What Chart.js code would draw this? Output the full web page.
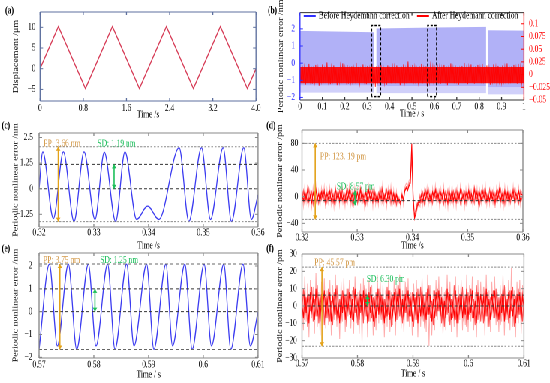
<!DOCTYPE html>
<html><head><meta charset="utf-8">
<script src="https://cdn.jsdelivr.net/npm/chart.js@4"></script>
<style>
html,body{margin:0;padding:0;background:#fff;overflow:hidden;width:550px;height:383px;}
#wrap{position:absolute;left:0;top:0;width:733px;height:383px;transform:scaleX(0.7503);transform-origin:0 0;}
#wrap canvas{position:absolute;left:0;top:0;}
</style></head><body><div id="wrap"></div>
<script>
// ---------- DATA ----------
// (a) triangular displacement
const aTime = [0, 0.34, 0.84, 1.34, 1.84, 2.34, 2.84, 3.34, 3.84, 4.0];
const aDisp = [0, 10.2, -4.8, 10.2, -4.8, 10.2, -4.8, 10.2, -4.8, 0];
const aXTicks = [0, 0.8, 1.6, 2.4, 3.2, 4.0];
const aXLabels = ['0', '0.8', '1.6', '2.4', '3.2', '4.0'];
const aYTicks = [-5, 0, 5, 10];
const aYLabels = ['\u22125', '0', '5', '10'];

// (b) envelope of the error before correction (nm) and noise after correction
const bBandT   = [0, 0.33, 0.336, 0.341, 0.6, 0.831, 0.835, 0.838, 1.0];
const bBandHi  = [1.88, 1.80, null, 2.02, 2.08, 2.12, null, 1.92, 1.90];
const bBandMid = [-1.30, -1.30, null, -1.33, -1.33, -1.33, null, -1.40, -1.40];
const bBandLo  = [-1.72, -1.72, null, -1.75, -1.75, -1.75, null, -1.82, -1.82];
const bCoreT  = [0, 1];
const bCoreHi = [0.015, 0.015];
const bCoreLo = [-0.017, -0.017];
const bRed = [
 0.012,-0.015,0.018,-0.009,0.014,-0.02,0.008,-0.013,0.021,-0.011,0.016,-0.018,0.01,-0.014,0.019,-0.008,0.013,-0.022,0.015,-0.012,
 0.02,-0.01,0.011,-0.017,0.024,-0.013,0.009,-0.019,0.014,-0.011,0.018,-0.015,0.012,-0.021,0.01,-0.014,0.017,-0.009,0.022,-0.016,
 0.013,-0.012,0.019,-0.018,0.01,-0.014,0.016,-0.02,0.012,-0.01,0.023,-0.013,0.015,-0.017,0.009,-0.016,0.02,-0.011,0.014,-0.019,
 0.017,-0.009,0.012,-0.015,0.021,-0.012,0.01,-0.024,0.016,-0.013,0.011,-0.018,0.019,-0.01,0.014,-0.016,0.012,-0.02,0.018,-0.011,
 0.01,-0.017,0.022,-0.013,0.015,-0.01,0.018,-0.015,0.012,-0.021,0.016,-0.009,0.02,-0.014,0.011,-0.018,0.026,-0.012,0.013,-0.016,
 0.019,-0.011,0.014,-0.019,0.01,-0.015,0.017,-0.012,0.021,-0.017,0.012,-0.01,0.016,-0.022,0.013,-0.014,0.018,-0.009,0.015,-0.02,
 0.011,-0.016,0.02,-0.011,0.014,-0.018,0.012,-0.013,0.019,-0.01,0.016,-0.021,0.01,-0.015,0.022,-0.012,0.013,-0.017,0.018,-0.011,
 0.015,-0.02,0.01,-0.014,0.017,-0.012,0.023,-0.016,0.011,-0.019,0.014,-0.01,0.02,-0.015,0.012,-0.018,0.016,-0.013,0.019,-0.009,
 0.013,-0.017,0.021,-0.011,0.01,-0.016,0.018,-0.014,0.012,-0.02,0.015,-0.012,0.02,-0.01,0.014,-0.023,0.017,-0.013,0.011,-0.015,
 0.018,-0.012,0.014,-0.019,0.022,-0.011,0.012,-0.017,0.016,-0.014,0.019,-0.01,0.013,-0.018,0.021,-0.012,0.015,-0.016,0.011,-0.013
];
const bZoomBoxes = [[0.32, 0.36], [0.57, 0.61]];
const bBoxTop = 2.2, bBoxBottom = -1.95;
const bXTicks = [0, 0.1, 0.2, 0.3, 0.4, 0.5, 0.6, 0.7, 0.8, 0.9, 1];
const bXLabels = ['0', '0.1', '0.2', '0.3', '0.4', '0.5', '0.6', '0.7', '0.8', '0.9', '1'];
const bYTicks = [-2, -1, 0, 1, 2];
const bYLabels = ['\u22122', '\u22121', '0', '1', '2'];
const bY1Ticks = [-0.05, -0.025, 0, 0.025, 0.05, 0.075, 0.1];
const bY1Labels = ['\u22120.05', '\u22120.025', '0', '0.025', '0.05', '0.075', '0.1'];
const bLegend = ['Before Heydemann correction', 'After Heydemann correction'];

// (c) zoom 0.32-0.36 s before correction (nm): extrema
const cT = [0.32, 0.32067, 0.32261, 0.32444, 0.32638, 0.32821, 0.33021, 0.33191, 0.33398, 0.33568, 0.33781, 0.33982, 0.34188, 0.34559, 0.34736, 0.34967, 0.35131, 0.35362, 0.35514, 0.35739, 0.35878, 0.36];
const cV = [0, 1.8, -1.46, 1.8, -1.6, 1.8, -1.5, 1.78, -1.6, 1.8, -1.5, -0.85, -1.5, 2.0, -1.6, 2.0, -1.5, 2.0, -1.6, 2.0, -1.5, -0.3];
const cXTicks = [0.32, 0.33, 0.34, 0.35, 0.36];
const cXLabels = ['0.32', '0.33', '0.34', '0.35', '0.36'];
const cYTicks = [-1.25, 0, 1.25, 2.5];
const cYLabels = ['\u22121.25', '0', '1.25', '2.5'];
const cStats = {pp: [-1.61, 2.05], mean: 0, sd: 1.19};

// (d) zoom 0.32-0.36 s after correction (pm)
const dDark = [
 3,-6,8,-4,10,-7,2,-9,6,-3,11,-5,4,-8,7,-2,9,-10,5,-4,
 8,-6,3,-9,12,-3,6,-7,10,-5,2,-8,7,-4,9,-6,4,-10,8,-2,
 6,-7,11,-4,3,-9,7,-5,10,-3,5,-8,9,-6,2,-7,8,-4,12,-5,
 4,-8,7,-3,9,-6,5,-10,3,-7,-4,-9,2,-6,8,13,9,16,20,80,
 2,-33,-24,-14,-6,-9,3,-7,5,-4,8,-6,3,-9,7,-2,10,-5,4,-8,
 6,-3,9,-7,2,-10,8,-4,11,-6,5,-8,7,-3,10,-5,3,-9,6,-4,
 9,-6,4,-8,12,-3,7,-9,5,-5,8,-2,10,-7,3,-6,9,-4,6,-10,
 7,-3,11,-6,4,-8,9,-5,6,-9,3,-4,10,-7,5,-3,8,-6,4,2
];
const dMid = [
 -5,9,-11,4,-8,12,-3,7,-12,5,-9,3,-10,8,-4,11,-7,2,-9,6,
 -3,10,-8,5,-11,7,-2,9,-6,12,-9,4,-7,10,-3,8,-11,6,-4,9,
 -10,4,-6,11,-8,3,-12,8,-5,9,-2,10,-7,5,-11,6,-3,12,-8,4,
 -6,10,-4,8,-11,5,-9,7,-12,3,-8,-12,4,-3,10,15,11,19,24,60,
 -10,-28,-18,-9,-13,2,-8,6,-11,9,-4,11,-7,5,-10,8,-3,12,-6,9,
 -8,4,-11,7,-5,10,-9,3,-12,8,-4,11,-7,5,-10,9,-3,7,-11,6,
 -4,12,-8,3,-10,9,-5,6,-12,8,-3,10,-9,4,-7,11,-5,8,-10,5,
 -6,9,-3,11,-8,5,-12,7,-4,10,-9,6,-2,11,-7,4,-10,8,-5,3
];
const dLight = [
 10,-14,16,-8,18,-12,6,-16,14,-6,17,-10,9,-15,13,-5,15,-18,11,-9,
 14,-12,7,-16,18,-6,12,-13,16,-9,5,-15,13,-8,16,-12,9,-17,14,-5,
 12,-14,17,-8,7,-16,13,-10,16,-6,10,-15,15,-12,5,-13,14,-8,18,-10,
 8,-15,13,-6,16,-12,10,-17,8,-14,-2,-16,6,-12,14,20,16,24,28,78,
 4,-30,-28,-18,-10,-15,7,-13,10,-8,14,-12,7,-16,13,-5,17,-10,8,-15,
 12,-6,16,-13,5,-17,14,-8,17,-12,10,-15,13,-6,16,-10,7,-16,12,-8,
 15,-12,8,-15,18,-6,13,-16,10,-10,14,-5,17,-13,7,-12,15,-8,12,-17,
 13,-6,17,-12,8,-15,15,-10,12,-16,7,-8,16,-13,10,-6,14,-12,8,4
];
const dYTicks = [-40, 0, 40, 80];
const dYLabels = ['\u221240', '0', '40', '80'];
const dStats = {pp: [-34, 80], mean: -6, sd: [-13, 9]};

// (e) zoom 0.57-0.61 s before correction (nm)
const eT = [0.57, 0.57188, 0.57334, 0.57535, 0.57687, 0.579, 0.5804, 0.58252, 0.58386, 0.58599, 0.58733, 0.58964, 0.59097, 0.59316, 0.59438, 0.59663, 0.59796, 0.60015, 0.60149, 0.60374, 0.60502, 0.60726, 0.6086, 0.61];
const eV = [-1.65, 2.08, -1.5, 2.08, -1.65, 2.08, -1.5, 2.08, -1.65, 2.08, -1.5, 2.08, -1.65, 2.08, -1.5, 2.08, -1.65, 2.08, -1.5, 2.08, -1.65, 2.08, -1.5, 0.0];
const eXTicks = [0.57, 0.58, 0.59, 0.6, 0.61];
const eXLabels = ['0.57', '0.58', '0.59', '0.6', '0.61'];
const eYTicks = [-2, -1, 0, 1, 2];
const eYLabels = ['\u22122', '\u22121', '0', '1', '2'];
const eStats = {pp: [-1.66, 2.09], mean: 0, sd: 1.0};

// (f) zoom 0.57-0.61 s after correction (pm)
const fDark = [
 2,-7,9,-4,6,-10,8,-3,5,-8,10,-6,3,-9,7,-2,9,-7,4,-5,
 8,-9,6,-3,10,-6,2,-10,7,-4,9,-8,5,-2,8,-7,4,-9,10,-5,
 3,-8,7,-6,9,-3,5,-10,8,-4,6,-9,2,-7,10,-5,8,-3,6,-10,
 4,-6,9,-8,3,-5,8,-9,6,-2,10,-7,4,-8,7,-4,9,-6,3,-9,
 7,-3,8,-10,5,-6,9,-4,2,-8,10,-5,6,-9,4,-7,8,-3,9,-6,
 5,-9,3,-7,10,-4,7,-8,2,-6,9,-10,6,-3,8,-7,4,-5,10,-8,
 6,-4,9,-7,3,-10,8,-5,7,-3,5,-9,10,-6,4,-8,7,-2,9,-5,
 3,-8,6,-4,10,-9,5,-3,8,-7,9,-6,4,-10,7,-5,8,-9,6,-2
];
const fMid = [
 -4,10,-8,5,-12,7,-3,11,-9,4,-6,12,-10,6,-2,9,-11,5,-7,10,
 -9,3,-11,8,-5,12,-7,4,-10,9,-3,6,-12,10,-5,7,-8,11,-4,6,
 -11,9,-4,7,-10,12,-6,3,-9,11,-7,5,-12,8,-3,10,-8,6,-11,4,
 -7,11,-5,9,-12,6,-3,10,-8,12,-6,4,-10,7,-4,11,-9,5,-6,8,
 -12,5,-8,10,-4,11,-9,6,-13,8,-5,12,-7,3,-11,9,-6,10,-3,7,
 -10,6,-12,9,-5,8,-11,4,-7,12,-8,5,-10,7,-3,11,-9,6,-12,8,
 -5,10,-7,4,-11,12,-8,6,-9,3,-10,11,-6,8,-12,5,-4,9,-7,10,
 -9,5,-11,7,-6,12,-8,4,-10,9,-3,11,-12,6,-7,10,-5,8,-9,4
];
const fLight = [
 6,-14,17,-9,13,-18,15,-7,11,-16,19,-12,8,-17,14,-6,16,-13,9,-11,
 15,-17,12,-8,18,-12,7,-19,14,-9,16,-15,10,-6,15,-13,9,-16,17,-10,
 8,-16,13,-21,16,-8,10,-18,15,-9,12,-17,6,-14,18,-10,15,-8,12,-18,
 9,-12,16,-15,8,-11,15,-17,12,-7,18,-13,9,-15,14,-9,16,-12,8,-17,
 13,-8,15,-18,10,-12,16,-9,6,-15,18,-23,12,-17,9,-14,15,-8,17,-12,
 11,-16,8,-14,18,-9,14,-15,7,-12,17,-18,12,-8,15,-14,9,-11,18,-15,
 12,-9,17,-14,8,-18,15,-10,14,-8,11,-17,18,-12,9,-15,14,-7,17,-11,
 8,-15,12,-9,18,-17,11,-8,15,-14,22,-12,9,-18,14,-10,15,-16,12,-6
];
const fYTicks = [-30, -20, -10, 0, 10, 20, 30];
const fYLabels = ['\u221230', '\u221220', '\u221210', '0', '10', '20', '30'];
const fStats = {pp: [-23.2, 22.4], mean: 0, sd: 6.3};

// ---------- RENDERING ----------
const W = 733, H = 383;
const wrap = document.getElementById('wrap');
const SERIF = '"Liberation Serif","Times New Roman",serif';
Chart.defaults.font.family = SERIF;
Chart.defaults.font.size = 10;
Chart.defaults.color = '#000';

const ORANGE = '#e3a21a', ORANGE_T = '#d39a4a', GREEN = '#1dbf5a', GREEN_T = '#22c060';
const BLUE = '#3030ff', RED = '#ff0000';
const GREY_DOT = {color: '#8a8a8a', dash: [2.5, 2]}, DARK_DASH = {color: '#333333', dash: [4, 3]};

const pts = (xs, ys) => xs.map((x, i) => ({x, y: ys[i]}));
const series = (t0, t1, vals) => vals.map((v, i) => ({x: t0 + i * (t1 - t0) / (vals.length - 1), y: v}));
const hline = (x0, x1, v, st) => ({data: [{x: x0, y: v}, {x: x1, y: v}], borderColor: st.color, borderDash: st.dash, borderWidth: 1, pointRadius: 0, fill: false, order: 0});

const framePlugin = {
  id: 'frameBox',
  afterDraw(chart) {
    const n = chart.canvas.notes || {};
    const f = n.frame; if (!f) return;
    const {ctx, chartArea: a} = chart;
    ctx.save();
    const seg = (c, w, x1, y1, x2, y2) => { ctx.strokeStyle = c; ctx.lineWidth = w; ctx.beginPath(); ctx.moveTo(x1, y1); ctx.lineTo(x2, y2); ctx.stroke(); };
    const xs = chart.scales.x, ys = chart.scales.y, y1 = chart.scales.y1;
    xs.ticks.forEach(t => { const p = xs.getPixelForValue(t.value); seg(f.bottom, 1.3, p, a.bottom, p, a.bottom - 3); seg(f.top, 1.3, p, a.top, p, a.top + 3); });
    ys.ticks.forEach(t => { const p = ys.getPixelForValue(t.value); seg(f.left, 1, a.left, p, a.left + 4, p); if (!y1) seg(f.right, 1, a.right, p, a.right - 4, p); });
    if (y1) y1.ticks.forEach(t => { const p = y1.getPixelForValue(t.value); seg(f.right, 1, a.right, p, a.right - 4, p); });
    seg(f.top, 1, a.left, a.top, a.right, a.top);
    seg(f.bottom, 1, a.left, a.bottom, a.right, a.bottom);
    seg(f.left, 1.35, a.left, a.top, a.left, a.bottom);
    seg(f.right, 1.35, a.right, a.top, a.right, a.bottom);
    if (n.letter) { ctx.font = 'bold 10px ' + SERIF; ctx.fillStyle = '#000'; ctx.textBaseline = 'middle'; ctx.textAlign = 'left'; ctx.fillText(n.letter.text, n.letter.px, n.letter.py); }
    if (n.legend) {
      ctx.font = '10px ' + SERIF; ctx.textBaseline = 'middle'; ctx.textAlign = 'left';
      n.legend.forEach(it => {
        seg(it.color, 2, a.left + it.dx, n.legendY, a.left + it.dx + 16, n.legendY);
        ctx.fillStyle = '#000'; ctx.fillText(it.text, a.left + it.dx + 20, n.legendY);
      });
    }
    ctx.restore();
  }
};
const notesPlugin = {
  id: 'notes',
  afterDatasetsDraw(chart) {
    const n = chart.canvas.notes || {};
    const ctx = chart.ctx, xs = chart.scales.x, ys = chart.scales.y;
    ctx.save();
    (n.arrows || []).forEach(ar => {
      const x = xs.getPixelForValue(ar.x), ya = ys.getPixelForValue(ar.y1), yb = ys.getPixelForValue(ar.y2);
      ctx.strokeStyle = ar.color; ctx.fillStyle = ar.color; ctx.lineWidth = 1.6;
      ctx.beginPath(); ctx.moveTo(x, ya); ctx.lineTo(x, yb); ctx.stroke();
      [[ya, yb], [yb, ya]].forEach(([tip, from]) => {
        const d = Math.sign(from - tip) || 1;
        ctx.beginPath(); ctx.moveTo(x, tip); ctx.lineTo(x - 3, tip + d * 4); ctx.lineTo(x + 3, tip + d * 4); ctx.closePath(); ctx.fill();
      });
    });
    ctx.font = '10px ' + SERIF; ctx.textBaseline = 'middle'; ctx.textAlign = 'left';
    (n.texts || []).forEach(t => { ctx.fillStyle = t.color; ctx.fillText(t.text, xs.getPixelForValue(t.x), ys.getPixelForValue(t.y)); });
    ctx.restore();
  }
};
Chart.register(framePlugin, notesPlugin);

function axisX(p) {
  return {type: 'linear', position: 'bottom', min: p.xmin, max: p.xmax,
    afterBuildTicks: s => { s.ticks = p.xTicks.map(v => ({value: v})); },
    afterFit: s => { s.height = p.xH; },
    grid: {display: false, drawTicks: false}, border: {display: false},
    ticks: {autoSkip: false, maxRotation: 0, padding: p.xPad, color: '#000', font: {size: 10}, callback: (v, i) => p.xLabels[i]},
    title: {display: true, text: p.xTitle, padding: 0, color: '#000', font: {size: 10}}};
}
function axisY(p) {
  return {type: 'linear', position: 'left', min: p.ymin, max: p.ymax,
    afterBuildTicks: s => { s.ticks = p.yTicks.map(v => ({value: v})); },
    afterFit: s => { s.width = p.yW; },
    grid: {display: false, drawTicks: false}, border: {display: false},
    ticks: {autoSkip: false, padding: p.yPad, color: p.yColor || '#000', font: {size: 10}, callback: (v, i) => p.yLabels[i]},
    title: {display: true, text: p.yTitle, padding: 0, color: '#111', font: {size: 10}}};
}
function panel(p) {
  const cv = document.createElement('canvas');
  cv.width = W; cv.height = H;
  wrap.appendChild(cv);
  cv.notes = p.notes;
  const scales = {x: axisX(p), y: axisY(p)};
  if (p.y1) scales.y1 = p.y1;
  return new Chart(cv, {
    type: 'line',
    data: {datasets: p.datasets},
    options: {
      responsive: false, animation: false, devicePixelRatio: 2, events: [],
      layout: {padding: {left: p.L - p.yW, top: p.T, right: W - p.R - (p.y1W || 0), bottom: H - p.B - p.xH}},
      scales,
      plugins: {legend: {display: false}, tooltip: {enabled: false}}
    }
  });
}
const noise = (t0, t1, vals, color, order) => ({data: series(t0, t1, vals), borderColor: color, borderWidth: 1, pointRadius: 0, fill: false, order});

// (a)
panel({
  L: 53.3, R: 341.2, T: 6, B: 101, yW: 38, yPad: 6, xH: 20, xPad: 1.3,
  xmin: 0, xmax: 4.0, xTicks: aXTicks, xLabels: aXLabels, xTitle: 'Time /s',
  ymin: -7.8, ymax: 13.7, yTicks: aYTicks, yLabels: aYLabels, yTitle: 'Displacement /\u03bcm',
  datasets: [{data: pts(aTime, aDisp), borderColor: '#d63a55', borderWidth: 1.3, pointRadius: 0, fill: false, tension: 0}],
  notes: {frame: {top: '#5d6f9e', bottom: '#5d6f9e', left: '#5d6f9e', right: '#5d6f9e'}, letter: {text: '(a)', px: 6.7, py: 11}}
});

// (b)
const bBoxDatasets = bZoomBoxes.map(bx => ({
  data: pts([bx[0], bx[0], bx[1], bx[1], bx[0]], [bBoxBottom, bBoxTop, bBoxTop, bBoxBottom, bBoxBottom]),
  borderColor: '#000', borderWidth: 1.5, borderDash: [3, 2], pointRadius: 0, fill: false, order: 0}));
panel({
  L: 399.8, R: 698.4, T: 7, B: 100, yW: 31.3, yPad: 6.5, xH: 20, xPad: 0.7, y1W: 34.6,
  xmin: 0, xmax: 1, xTicks: bXTicks, xLabels: bXLabels, xTitle: 'Time / s',
  ymin: -2.15, ymax: 2.95, yTicks: bYTicks, yLabels: bYLabels, yTitle: 'Periodic nonlinear error /nm', yColor: BLUE,
  y1: {type: 'linear', position: 'right', min: -0.05, max: 0.122,
    afterBuildTicks: s => { s.ticks = bY1Ticks.map(v => ({value: v})); },
    afterFit: s => { s.width = 34.6; },
    grid: {display: false, drawTicks: false}, border: {display: false},
    ticks: {autoSkip: false, padding: 6.6, color: RED, font: {size: 10}, callback: (v, i) => bY1Labels[i]}},
  datasets: [
    ...bBoxDatasets,
    {data: series(0, 1, bRed), yAxisID: 'y1', borderColor: 'rgba(255,0,0,0.8)', borderWidth: 1, pointRadius: 0, fill: false, order: 2},
    {data: pts(bCoreT, bCoreHi), yAxisID: 'y1', borderWidth: 0, pointRadius: 0, fill: '+1', backgroundColor: 'rgba(255,0,0,0.9)', order: 3},
    {data: pts(bCoreT, bCoreLo), yAxisID: 'y1', borderWidth: 0, pointRadius: 0, fill: false, order: 3},
    {data: pts(bBandT, bBandHi), borderWidth: 0, pointRadius: 0, spanGaps: false, fill: '+1', backgroundColor: 'rgba(100,100,240,0.5)', order: 5},
    {data: pts(bBandT, bBandMid), borderWidth: 0, pointRadius: 0, spanGaps: false, fill: '+1', backgroundColor: 'rgba(100,100,240,0.3)', order: 5},
    {data: pts(bBandT, bBandLo), borderWidth: 0, pointRadius: 0, spanGaps: false, fill: false, order: 5}
  ],
  notes: {frame: {top: '#333', bottom: '#333', left: BLUE, right: RED}, letter: {text: '(b)', px: 357, py: 11},
    legendY: 16, legend: [{text: bLegend[0], color: BLUE, dx: 5}, {text: bLegend[1], color: RED, dx: 156}]}
});

// (c)
panel({
  L: 52, R: 343.9, T: 133, B: 227, yW: 37.3, yPad: 8, xH: 25, xPad: 0,
  xmin: 0.32, xmax: 0.36, xTicks: cXTicks, xLabels: cXLabels, xTitle: 'Time /s',
  ymin: -1.87, ymax: 2.72, yTicks: cYTicks, yLabels: cYLabels, yTitle: 'Periodic nonlinear error /nm',
  datasets: [
    hline(0.32, 0.36, cStats.pp[1], GREY_DOT), hline(0.32, 0.36, cStats.pp[0], GREY_DOT),
    hline(0.32, 0.36, cStats.sd, DARK_DASH), hline(0.32, 0.36, cStats.mean, DARK_DASH),
    {data: pts(cT, cV), borderColor: '#3b3bf0', borderWidth: 1.3, pointRadius: 0, fill: false, cubicInterpolationMode: 'monotone', order: 5}
  ],
  notes: {frame: {top: '#888', bottom: '#888', left: '#888', right: '#888'}, letter: {text: '(c)', px: 2.2, py: 126},
    arrows: [{x: 0.3235, y1: cStats.pp[0], y2: cStats.pp[1], color: ORANGE}, {x: 0.3337, y1: cStats.mean, y2: cStats.sd, color: GREEN}],
    texts: [{x: 0.3208, y: 2.18, text: 'PP: 3.66 nm', color: ORANGE_T}, {x: 0.33065, y: 2.18, text: 'SD: 1.19 nm', color: GREEN_T}]}
});

// (d)
panel({
  L: 402.5, R: 697, T: 130, B: 232, yW: 35.3, yPad: 5, xH: 20, xPad: 0,
  xmin: 0.32, xmax: 0.36, xTicks: cXTicks, xLabels: cXLabels, xTitle: 'Time /s',
  ymin: -53, ymax: 100, yTicks: dYTicks, yLabels: dYLabels, yTitle: 'Periodic nonlinear error /pm',
  datasets: [
    hline(0.32, 0.36, dStats.pp[1], GREY_DOT), hline(0.32, 0.36, dStats.pp[0], GREY_DOT),
    hline(0.32, 0.36, dStats.mean, DARK_DASH),
    noise(0.32, 0.36, dDark, RED, 4),
    noise(0.32, 0.36, dMid, 'rgba(255,20,20,0.75)', 5),
    noise(0.32, 0.36, dLight, 'rgba(255,70,70,0.45)', 6)
  ],
  notes: {frame: {top: '#888', bottom: '#888', left: '#888', right: '#888'}, letter: {text: '(d)', px: 355, py: 126},
    arrows: [{x: 0.3224, y1: dStats.pp[0], y2: dStats.pp[1], color: ORANGE}, {x: 0.3296, y1: dStats.sd[0], y2: dStats.sd[1], color: GREEN}],
    texts: [{x: 0.32326, y: 60, text: 'PP: 123. 19 pm', color: ORANGE_T}, {x: 0.32628, y: 15, text: 'SD: 8.57 pm', color: GREEN_T}]}
});

// (e)
panel({
  L: 52, R: 343.9, T: 253, B: 358, yW: 37.3, yPad: 9, xH: 23, xPad: 1,
  xmin: 0.57, xmax: 0.61, xTicks: eXTicks, xLabels: eXLabels, xTitle: 'Time / s',
  ymin: -2.03, ymax: 2.57, yTicks: eYTicks, yLabels: eYLabels, yTitle: 'Periodic nonlinear error /nm',
  datasets: [
    hline(0.57, 0.61, eStats.pp[1], {color: '#666', dash: [4, 3]}), hline(0.57, 0.61, eStats.pp[0], {color: '#666', dash: [4, 3]}),
    hline(0.57, 0.61, eStats.sd, DARK_DASH), hline(0.57, 0.61, eStats.mean, DARK_DASH),
    {data: pts(eT, eV), borderColor: '#3b3bf0', borderWidth: 1.3, pointRadius: 0, fill: false, cubicInterpolationMode: 'monotone', order: 5}
  ],
  notes: {frame: {top: '#888', bottom: '#888', left: '#888', right: '#888'}, letter: {text: '(e)', px: 2.2, py: 249},
    arrows: [{x: 0.5738, y1: eStats.pp[0], y2: eStats.pp[1], color: ORANGE}, {x: 0.5802, y1: eStats.mean, y2: eStats.sd, color: GREEN}],
    texts: [{x: 0.57073, y: 2.24, text: 'PP: 3.75 nm', color: ORANGE_T}, {x: 0.58114, y: 2.24, text: 'SD: 1.25 nm', color: GREEN_T}]}
});

// (f)
panel({
  L: 402.5, R: 698.4, T: 254, B: 358, yW: 35.3, yPad: 6.7, xH: 22, xPad: 0,
  xmin: 0.57, xmax: 0.61, xTicks: eXTicks, xLabels: eXLabels, xTitle: 'Time / s',
  ymin: -30, ymax: 30, yTicks: fYTicks, yLabels: fYLabels, yTitle: 'Periodic nonlinear error /pm',
  datasets: [
    hline(0.57, 0.61, fStats.pp[1], GREY_DOT), hline(0.57, 0.61, fStats.pp[0], GREY_DOT),
    hline(0.57, 0.61, fStats.sd, DARK_DASH), hline(0.57, 0.61, fStats.mean, DARK_DASH),
    noise(0.57, 0.61, fDark, RED, 4),
    noise(0.57, 0.61, fMid, 'rgba(255,20,20,0.75)', 5),
    noise(0.57, 0.61, fLight, 'rgba(255,70,70,0.45)', 6)
  ],
  notes: {frame: {top: '#888', bottom: '#888', left: '#888', right: '#888'}, letter: {text: '(f)', px: 355, py: 249},
    arrows: [{x: 0.5736, y1: fStats.pp[0], y2: fStats.pp[1], color: ORANGE}, {x: 0.5818, y1: fStats.mean, y2: fStats.sd, color: GREEN}],
    texts: [{x: 0.57222, y: 25, text: 'PP: 45.57 pm', color: ORANGE_T}, {x: 0.58166, y: 15.4, text: 'SD: 6.30 pm', color: GREEN_T}]}
});
</script></body></html>
